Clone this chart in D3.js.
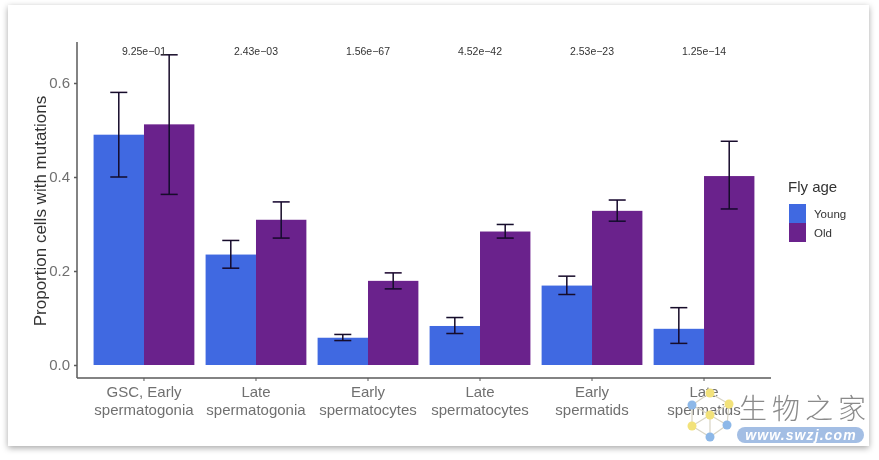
<!DOCTYPE html>
<html>
<head>
<meta charset="utf-8">
<script src="https://cdn.jsdelivr.net/npm/d3@7/dist/d3.min.js"></script>
<style>
  html, body { margin: 0; padding: 0; background: #fff; }
  svg { display: block; }
</style>
</head>
<body>
<div id="viz"></div>
<script>
const categories = [
  ["GSC, Early", "spermatogonia"],
  ["Late", "spermatogonia"],
  ["Early", "spermatocytes"],
  ["Late", "spermatocytes"],
  ["Early", "spermatids"],
  ["Late", "spermatids"]
];
const groups = ["Young", "Old"];
const pvalues = ["9.25e−01", "2.43e−03", "1.56e−67", "4.52e−42", "2.53e−23", "1.25e−14"];
const young = [0.490, 0.235, 0.058, 0.083, 0.169, 0.077];
const old = [0.512, 0.309, 0.179, 0.284, 0.328, 0.402];
const youngLow = [0.400, 0.206, 0.052, 0.067, 0.150, 0.046];
const youngHigh = [0.580, 0.265, 0.065, 0.101, 0.189, 0.122];
const oldLow = [0.363, 0.270, 0.162, 0.270, 0.306, 0.332];
const oldHigh = [0.660, 0.347, 0.196, 0.299, 0.351, 0.476];
const yTicks = [0, 0.2, 0.4, 0.6];
const colors = ["#4169e1", "#6a228c"];

const width = 879, height = 460;
const grey = "#707070", axisCol = "#5a5a5a";

const svg = d3.select("#viz").append("svg")
  .attr("width", width)
  .attr("height", height)
  .style("font-family", "'Liberation Sans', Arial, sans-serif");

const defs = svg.append("defs");
defs.append("filter").attr("id", "shadow")
  .attr("x", "-3%").attr("y", "-3%").attr("width", "106%").attr("height", "106%")
  .append("feDropShadow")
  .attr("dx", 0).attr("dy", 2).attr("stdDeviation", 3)
  .attr("flood-color", "#000").attr("flood-opacity", 0.35);
defs.append("filter").attr("id", "soft")
  .append("feGaussianBlur").attr("stdDeviation", 0.6);

// white card behind the plot
svg.append("rect")
  .attr("x", 8).attr("y", 5)
  .attr("width", 861).attr("height", 441)
  .attr("fill", "#fff")
  .attr("filter", "url(#shadow)");

const g = svg.append("g").attr("filter", "url(#soft)");

const x = d3.scaleBand()
  .domain(d3.range(categories.length))
  .range([77, 771])
  .paddingInner(0.1)
  .paddingOuter(0.148);
const xInner = d3.scaleBand()
  .domain(groups)
  .range([0, x.bandwidth()]);
const y = d3.scaleLinear()
  .domain([0, 0.6])
  .range([365, 83]);

const rows = categories.map((c, i) => [
  {i: i, group: "Young", value: young[i], lo: youngLow[i], hi: youngHigh[i]},
  {i: i, group: "Old", value: old[i], lo: oldLow[i], hi: oldHigh[i]}
]).flat();

const color = d3.scaleOrdinal().domain(groups).range(colors);

// bars
g.append("g").selectAll("rect")
  .data(rows)
  .join("rect")
    .attr("x", d => x(d.i) + xInner(d.group))
    .attr("y", d => y(d.value))
    .attr("width", xInner.bandwidth())
    .attr("height", d => y(0) - y(d.value))
    .attr("fill", d => color(d.group));

// error bars
const err = g.append("g")
  .attr("stroke", "#14082a")
  .attr("stroke-width", 1.5)
  .selectAll("g")
  .data(rows)
  .join("g")
    .attr("transform", d => `translate(${x(d.i) + xInner(d.group) + xInner.bandwidth() / 2},0)`);
err.append("line").attr("y1", d => y(d.lo)).attr("y2", d => y(d.hi));
err.append("line").attr("x1", -8.5).attr("x2", 8.5).attr("y1", d => y(d.lo)).attr("y2", d => y(d.lo));
err.append("line").attr("x1", -8.5).attr("x2", 8.5).attr("y1", d => y(d.hi)).attr("y2", d => y(d.hi));

// p-values
g.append("g").selectAll("text")
  .data(pvalues)
  .join("text")
    .attr("x", (d, i) => x(i) + x.bandwidth() / 2)
    .attr("y", 55)
    .attr("text-anchor", "middle")
    .attr("font-size", 10.5)
    .attr("fill", "#333")
    .text(d => d);

// y axis
const yAxis = g.append("g")
  .attr("transform", "translate(77,0)")
  .call(d3.axisLeft(y).tickValues(yTicks).tickFormat(d3.format(".1f")).tickSize(3).tickPadding(4));
yAxis.select(".domain").remove();
yAxis.append("line").attr("y1", 42).attr("y2", 378);
yAxis.selectAll("line").attr("stroke", axisCol).attr("stroke-width", 1.5);
yAxis.selectAll("text").attr("font-size", 15).attr("font-family", "'Liberation Sans', Arial, sans-serif").attr("fill", grey);

// x axis
const xAxis = g.append("g")
  .attr("transform", "translate(0,378)")
  .call(d3.axisBottom(x).tickSize(3).tickFormat(""));
xAxis.select(".domain").attr("stroke", axisCol).attr("stroke-width", 1.5).attr("d", "M77,0H771");
xAxis.selectAll(".tick line").attr("stroke", axisCol);

const xLabels = g.append("g").selectAll("text")
  .data(categories)
  .join("text")
    .attr("x", (d, i) => x(i) + x.bandwidth() / 2)
    .attr("y", 397)
    .attr("text-anchor", "middle")
    .attr("font-size", 15)
    .attr("fill", grey);
xLabels.selectAll("tspan")
  .data(d => d)
  .join("tspan")
    .attr("x", function() { return d3.select(this.parentNode).attr("x"); })
    .attr("dy", (d, i) => i ? 18 : 0)
    .text(d => d);

// y title
g.append("text")
  .attr("transform", "translate(46,211) rotate(-90)")
  .attr("text-anchor", "middle")
  .attr("font-size", 17)
  .attr("fill", "#333")
  .text("Proportion cells with mutations");

// legend
const legend = g.append("g");
legend.append("text")
  .attr("x", 788).attr("y", 192)
  .attr("font-size", 15)
  .attr("fill", "#333")
  .text("Fly age");
const item = legend.selectAll("g")
  .data(groups)
  .join("g")
    .attr("transform", (d, i) => `translate(789,${204 + i * 19})`);
item.append("rect")
  .attr("width", 17).attr("height", 19)
  .attr("fill", d => color(d));
item.append("text")
  .attr("x", 25).attr("y", 14)
  .attr("font-size", 11.5)
  .attr("fill", "#333")
  .text(d => d);

// watermark
const mark = svg.append("g").attr("filter", "url(#soft)");
const logoNodes = [[692, 405, "#8db8e8"], [729, 404, "#f2e27a"], [710, 415, "#f2e27a"], [692, 426, "#f2e27a"], [727, 425, "#8db8e8"], [710, 437, "#8db8e8"], [710, 393, "#f2e27a"]];
const logoLinks = [[0, 2], [1, 2], [2, 5], [0, 3], [3, 5], [5, 4], [4, 1], [0, 6], [6, 1], [3, 2], [2, 4]];
mark.append("g").selectAll("line")
  .data(logoLinks)
  .join("line")
    .attr("x1", d => logoNodes[d[0]][0]).attr("y1", d => logoNodes[d[0]][1])
    .attr("x2", d => logoNodes[d[1]][0]).attr("y2", d => logoNodes[d[1]][1])
    .attr("stroke", "#d8d4c4").attr("stroke-width", 1.2);
mark.append("g").selectAll("circle")
  .data(logoNodes)
  .join("circle")
    .attr("cx", d => d[0]).attr("cy", d => d[1]).attr("r", 4.5)
    .attr("fill", d => d[2]);
mark.append("text")
  .attr("x", 739).attr("y", 419)
  .attr("font-family", "'Noto Sans CJK SC'")
  .attr("font-size", 28)
  .attr("font-weight", 300)
  .attr("letter-spacing", 5)
  .attr("fill", "#8a8a8a")
  .text("生物之家");
mark.append("rect")
  .attr("x", 737).attr("y", 427)
  .attr("width", 127).attr("height", 16).attr("rx", 8)
  .attr("fill", "#a3bee4");
mark.append("text")
  .attr("x", 801).attr("y", 440)
  .attr("text-anchor", "middle")
  .attr("font-size", 14)
  .attr("font-weight", "bold")
  .attr("font-style", "italic")
  .attr("letter-spacing", 1.1)
  .attr("fill", "#fff")
  .text("www.swzj.com");
</script>
</body>
</html>
